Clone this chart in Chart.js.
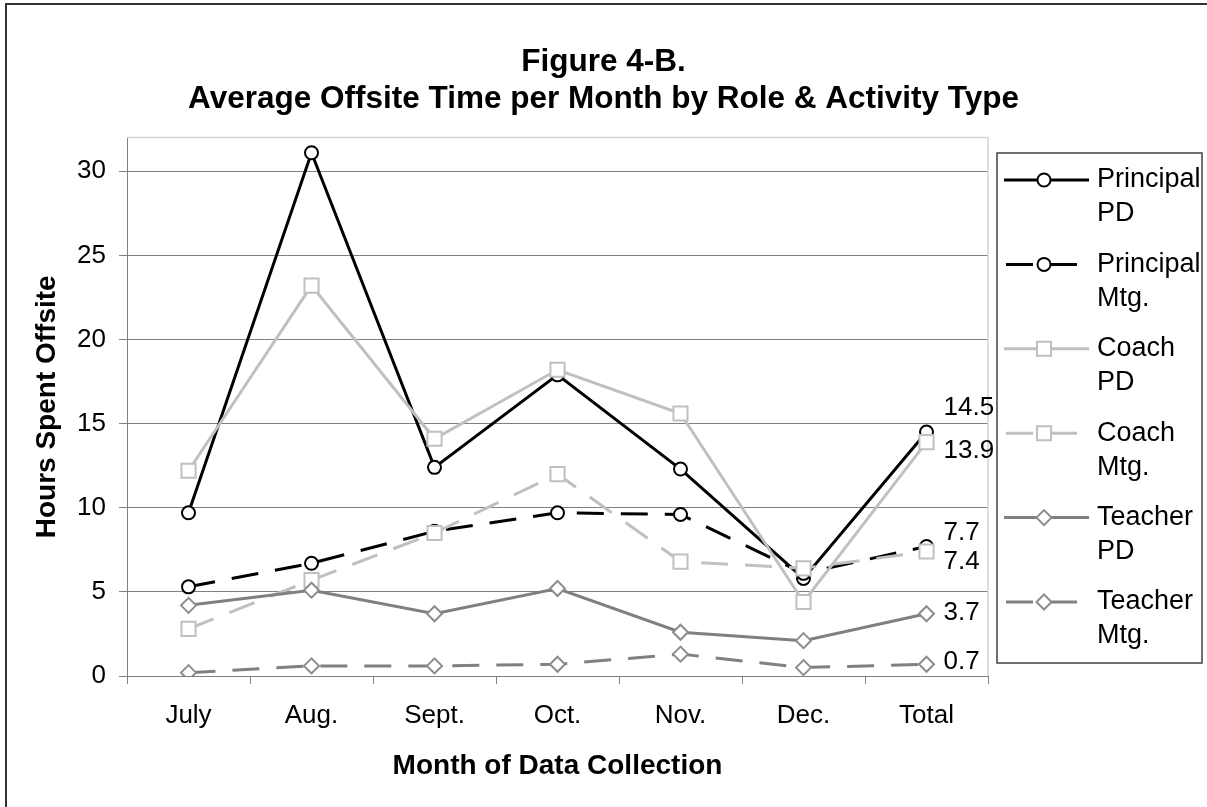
<!DOCTYPE html>
<html>
<head>
<meta charset="utf-8">
<script src="https://cdn.jsdelivr.net/npm/chart.js@4.4.1/dist/chart.umd.min.js"></script>
<style>
html,body{margin:0;padding:0;background:#fff;}
#wrap{width:1207px;height:807px;position:relative;}
</style>
</head>
<body>
<div id="wrap"><canvas id="c" width="1207" height="807"></canvas></div>
<script>
// ---- data ----
const categories = ['July', 'Aug.', 'Sept.', 'Oct.', 'Nov.', 'Dec.', 'Total'];
const principalPD  = [9.7, 31.1, 12.4, 17.9, 12.3, 5.8, 14.5];
const principalMtg = [5.3, 6.7, 8.6, 9.7, 9.6, 6.1, 7.7];
const coachPD      = [12.2, 23.2, 14.1, 18.2, 15.6, 4.4, 13.9];
const coachMtg     = [2.8, 5.7, 8.5, 12.0, 6.8, 6.4, 7.4];
const teacherPD    = [4.2, 5.1, 3.7, 5.2, 2.6, 2.1, 3.7];
const teacherMtg   = [0.2, 0.6, 0.6, 0.7, 1.3, 0.5, 0.7];
const seriesNames  = [['Principal', 'PD'], ['Principal', 'Mtg.'], ['Coach', 'PD'], ['Coach', 'Mtg.'], ['Teacher', 'PD'], ['Teacher', 'Mtg.']];
const yTickValues  = [0, 5, 10, 15, 20, 25, 30];
const yMin = 0, yMax = 32;
const titleLines = ['Figure 4-B.', 'Average Offsite Time per Month by Role & Activity Type'];
const xTitle = 'Month of Data Collection';
const yTitle = 'Hours Spent Offsite';

// ---- styles ----
const FONT = '"Liberation Sans", Arial, sans-serif';
const BLACK = '#000000', LIGHT = '#c0c0c0', MID = '#808080';
const DASH = [27, 17];

function makeSet(label, data, color, dashed, style, radius, idx) {
  return {
    label: label.join(' '),
    legendLines: label,
    data: data,
    borderColor: color,
    backgroundColor: '#ffffff',
    borderWidth: 3,
    borderDash: dashed ? DASH : [],
    pointStyle: style,
    pointRadius: radius,
    pointHoverRadius: radius,
    pointBorderWidth: 2,
    pointBorderColor: color === MID ? '#8c8c8c' : color,
    pointBackgroundColor: '#ffffff',
    tension: 0,
    fill: false,
    order: -idx
  };
}

const datasets = [
  makeSet(seriesNames[0], principalPD, BLACK, false, 'circle', 6.5, 0),
  makeSet(seriesNames[1], principalMtg, BLACK, true, 'circle', 6.5, 1),
  makeSet(seriesNames[2], coachPD, LIGHT, false, 'rect', 10, 2),
  makeSet(seriesNames[3], coachMtg, LIGHT, true, 'rect', 10, 3),
  makeSet(seriesNames[4], teacherPD, MID, false, 'rectRot', 7.5, 4),
  makeSet(seriesNames[5], teacherMtg, MID, true, 'rectRot', 7.5, 5)
];

function drawMarker(ctx, style, r, x, y, stroke, lw) {
  ctx.save();
  ctx.fillStyle = '#ffffff';
  ctx.strokeStyle = stroke;
  ctx.lineWidth = lw;
  ctx.setLineDash([]);
  ctx.beginPath();
  if (style === 'circle') {
    ctx.arc(x, y, r, 0, Math.PI * 2);
  } else if (style === 'rect') {
    const s = Math.SQRT1_2 * r;
    ctx.rect(x - s, y - s, 2 * s, 2 * s);
  } else {
    ctx.moveTo(x, y - r); ctx.lineTo(x + r, y); ctx.lineTo(x, y + r); ctx.lineTo(x - r, y); ctx.closePath();
  }
  ctx.fill();
  ctx.stroke();
  ctx.restore();
}

const framePlugin = {
  id: 'framePlugin',
  beforeDraw(chart) {
    const ctx = chart.ctx;
    ctx.save();
    ctx.fillStyle = '#ffffff';
    ctx.fillRect(0, 0, chart.width, chart.height);
    ctx.restore();
  },
  beforeDatasetsDraw(chart) {
    const ctx = chart.ctx, a = chart.chartArea;
    ctx.save();
    ctx.strokeStyle = '#d4d4d4';
    ctx.lineWidth = 1.5;
    ctx.beginPath();
    ctx.moveTo(a.left, a.top);
    ctx.lineTo(a.right, a.top);
    ctx.lineTo(a.right, a.bottom);
    ctx.stroke();
    ctx.restore();
  },
  afterDraw(chart) {
    const ctx = chart.ctx;
    ctx.save();
    ctx.strokeStyle = '#333333';
    ctx.lineWidth = 2;
    ctx.beginPath();
    ctx.moveTo(6, chart.height);
    ctx.lineTo(6, 4);
    ctx.lineTo(chart.width, 4);
    ctx.stroke();
    ctx.restore();
  }
};

const legendPlugin = {
  id: 'sideLegend',
  afterDraw(chart, args, opts) {
    const ctx = chart.ctx;
    const b = opts.box;
    ctx.save();
    ctx.strokeStyle = '#404040';
    ctx.lineWidth = 1.5;
    ctx.strokeRect(b.x, b.y, b.w, b.h);
    ctx.font = opts.fontSize + 'px ' + FONT;
    ctx.fillStyle = '#000';
    ctx.textBaseline = 'middle';
    ctx.textAlign = 'left';
    chart.data.datasets.forEach((ds, i) => {
      const cy = b.y + opts.first + i * opts.step;
      ctx.save();
      ctx.strokeStyle = ds.borderColor;
      ctx.lineWidth = ds.borderWidth;
      ctx.lineCap = 'butt';
      ctx.setLineDash(ds.borderDash.length ? ds.borderDash : []);
      ctx.beginPath();
      const x0 = ds.borderDash.length ? opts.lineX0 + 2 : opts.lineX0;
      const x1 = ds.borderDash.length ? opts.lineX1 - 11 : opts.lineX1;
      ctx.moveTo(x0, cy);
      ctx.lineTo(x1, cy);
      ctx.stroke();
      ctx.restore();
      drawMarker(ctx, ds.pointStyle, ds.pointRadius, opts.markerX, cy, ds.pointBorderColor, ds.pointBorderWidth);
      ds.legendLines.forEach((t, j) => {
        ctx.fillText(t, opts.textX, cy + j * opts.lineGap);
      });
    });
    ctx.restore();
  }
};

const endLabelPlugin = {
  id: 'endLabels',
  afterDatasetsDraw(chart, args, opts) {
    const ctx = chart.ctx;
    ctx.save();
    ctx.font = opts.fontSize + 'px ' + FONT;
    ctx.fillStyle = '#000';
    ctx.textBaseline = 'middle';
    ctx.textAlign = 'left';
    chart.data.datasets.forEach((ds, i) => {
      const meta = chart.getDatasetMeta(i);
      const last = meta.data.length - 1;
      const pt = meta.data[last];
      const v = ds.data[last];
      ctx.fillText(v.toFixed(1), pt.x + opts.dx, pt.y + opts.dy[i]);
    });
    ctx.restore();
  }
};

new Chart(document.getElementById('c'), {
  type: 'line',
  data: { labels: categories, datasets: datasets },
  plugins: [framePlugin, legendPlugin, endLabelPlugin],
  options: {
    responsive: false,
    devicePixelRatio: 1,
    animation: false,
    layout: { padding: { left: 0, right: 0, top: 0, bottom: 0 } },
    plugins: {
      legend: { display: false },
      tooltip: { enabled: false },
      title: {
        display: true,
        text: titleLines,
        color: '#000',
        font: { family: FONT, size: 31.5, weight: 'bold', lineHeight: 1.2 },
        padding: { top: 43, bottom: 19 }
      },
      sideLegend: {
        box: { x: 997, y: 153, w: 205, h: 510 },
        first: 27, step: 84.4, lineGap: 34,
        lineX0: 1004, lineX1: 1089, markerX: 1044, textX: 1097,
        fontSize: 27
      },
      endLabels: { fontSize: 26, dx: 17, dy: [-24, -14, 9, 10, -1, -2] }
    },
    scales: {
      x: {
        type: 'category',
        offset: true,
        grid: { display: true, offset: true, drawOnChartArea: false, drawTicks: true, tickLength: 8, color: '#808080', lineWidth: 1 },
        border: { display: true, color: '#808080', width: 1 },
        ticks: { color: '#000', font: { family: FONT, size: 26 }, padding: 16, maxRotation: 0, autoSkip: false },
        title: { display: true, text: xTitle, color: '#000', font: { family: FONT, size: 28, weight: 'bold', lineHeight: 1.2 }, padding: { top: 0, bottom: 24 } },
        afterFit(s) { s.height = 131; }
      },
      y: {
        type: 'linear',
        position: 'left',
        min: yMin, max: yMax,
        afterBuildTicks(s) { s.ticks = yTickValues.map(v => ({ value: v })); },
        grid: { display: true, drawTicks: true, tickLength: 8, color: '#808080', lineWidth: 1 },
        border: { display: true, color: '#808080', width: 1 },
        ticks: { color: '#000', font: { family: FONT, size: 26 }, padding: 13 },
        title: { display: true, text: yTitle, color: '#000', font: { family: FONT, size: 28, weight: 'bold', lineHeight: 1.2 }, padding: { top: 30, bottom: 0 } },
        afterFit(s) { s.width = 127; }
      },
      yRight: {
        type: 'linear',
        position: 'right',
        display: true,
        min: yMin, max: yMax,
        grid: { display: false, drawTicks: false },
        border: { display: false },
        ticks: { display: false },
        afterFit(s) { s.width = 219; }
      }
    }
  }
});
</script>
</body>
</html>
